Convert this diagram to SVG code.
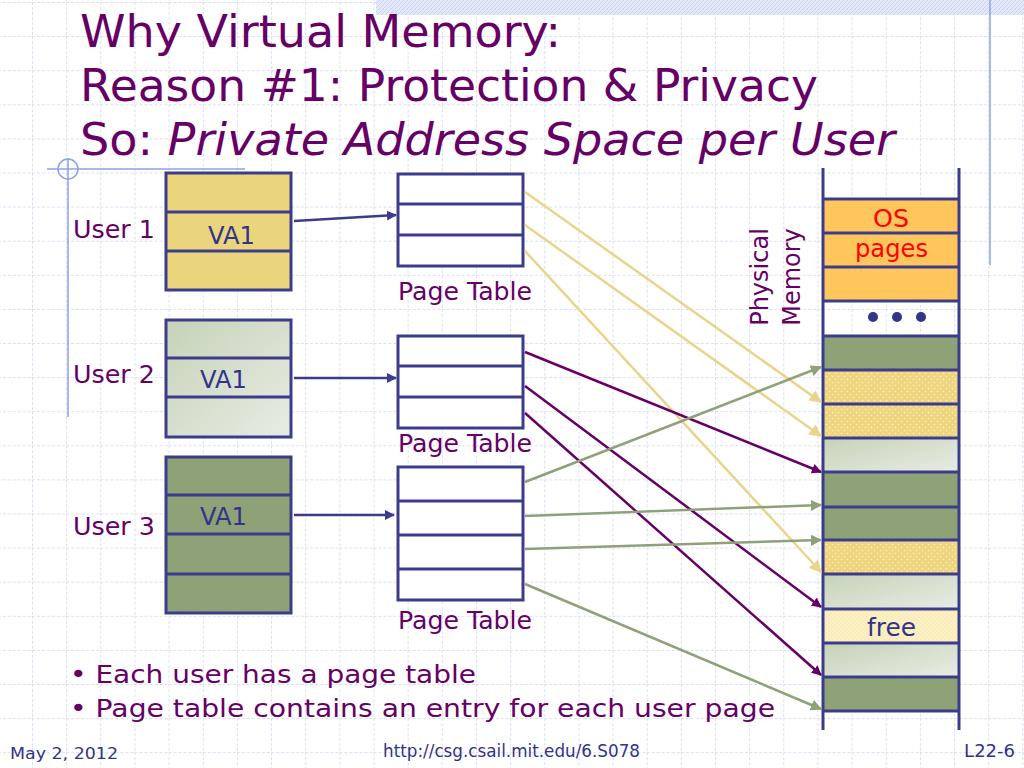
<svg xmlns="http://www.w3.org/2000/svg" width="1024" height="768" viewBox="0 0 1024 768">
<defs>
  <pattern id="grid" x="32" y="2" width="34.15" height="34.1" patternUnits="userSpaceOnUse">
    <path d="M0.5 0V34.1M0 0.5H34.15" stroke="#DADDF2" stroke-width="1" stroke-dasharray="3 2" fill="none"/>
  </pattern>
  <pattern id="hatch" width="4" height="4" patternUnits="userSpaceOnUse">
    <rect width="4" height="4" fill="#E4E9FA"/>
    <path d="M0 4L4 0" stroke="#C9D2F2" stroke-width="1"/>
  </pattern>
  <pattern id="dotsY" width="6" height="6" patternUnits="userSpaceOnUse">
    <rect width="6" height="6" fill="#EFD67E"/>
    <circle cx="1.5" cy="1.5" r="0.8" fill="#FAF0C8"/>
    <circle cx="4.5" cy="4.5" r="0.8" fill="#FAF0C8"/>
  </pattern>
  <pattern id="dotsF" width="4" height="4" patternUnits="userSpaceOnUse">
    <rect width="4" height="4" fill="#FAECB8"/>
    <circle cx="1" cy="1" r="0.7" fill="#FFF8E0"/>
    <circle cx="3" cy="3" r="0.7" fill="#FFF8E0"/>
  </pattern>
  <linearGradient id="lg" x1="0" y1="0" x2="1" y2="1">
    <stop offset="0" stop-color="#C5D3B8"/>
    <stop offset="1" stop-color="#E8ECE4"/>
  </linearGradient>
  <marker id="arrB" viewBox="0 0 10 10" refX="9" refY="5" markerWidth="4" markerHeight="4" orient="auto" markerUnits="strokeWidth">
    <path d="M0 0L10 5L0 10z" fill="#3C3C8C"/>
  </marker>
  <marker id="arrY" viewBox="0 0 10 10" refX="9" refY="5" markerWidth="5" markerHeight="5" orient="auto" markerUnits="strokeWidth">
    <path d="M0 0L10 5L0 10z" fill="#E9D58A"/>
  </marker>
  <marker id="arrP" viewBox="0 0 10 10" refX="9" refY="5" markerWidth="4" markerHeight="4" orient="auto" markerUnits="strokeWidth">
    <path d="M0 0L10 5L0 10z" fill="#660066"/>
  </marker>
  <marker id="arrG" viewBox="0 0 10 10" refX="9" refY="5" markerWidth="4.5" markerHeight="4.5" orient="auto" markerUnits="strokeWidth">
    <path d="M0 0L10 5L0 10z" fill="#8FA177"/>
  </marker>
  <style>
    .box{stroke:#3C3C8C;stroke-width:3;}
    .ln{stroke:#3C3C8C;stroke-width:3;fill:none;}
    .txt{font-family:"DejaVu Sans","Liberation Sans",sans-serif;}
    .pur{fill:#660066;}
    .blu{fill:#333388;}
    .lbl{font-size:24px;}
    .deco{stroke:#8EA2E6;stroke-width:1.5;fill:none;}
    .cy{stroke:#E9D58A;stroke-width:2.5;fill:none;marker-end:url(#arrY);}
    .cp{stroke:#660066;stroke-width:2.5;fill:none;marker-end:url(#arrP);}
    .cg{stroke:#8FA177;stroke-width:2.5;fill:none;marker-end:url(#arrG);}
    .cb{stroke:#3C3C8C;stroke-width:2.5;fill:none;marker-end:url(#arrB);}
  </style>
</defs>

<rect width="1024" height="768" fill="#FFFFFF"/>
<rect width="1024" height="768" fill="url(#grid)"/>
<rect x="376" y="0" width="648" height="15" fill="url(#hatch)"/>
<line class="deco" x1="990" y1="0" x2="990" y2="265"/>
<line class="deco" x1="47" y1="169" x2="245" y2="169"/>
<line class="deco" x1="68" y1="158" x2="68" y2="417"/>
<circle class="deco" cx="68" cy="169" r="10"/>

<g id="title" class="txt pur" font-size="45">
  <text x="80" y="47" textLength="481" lengthAdjust="spacingAndGlyphs">Why Virtual Memory:</text>
  <text x="80" y="101" textLength="738" lengthAdjust="spacingAndGlyphs">Reason #1: Protection &amp; Privacy</text>
  <text x="80" y="155" textLength="815" lengthAdjust="spacingAndGlyphs">So: <tspan font-style="italic">Private Address Space per User</tspan></text>
</g>

<g id="user1">
  <rect class="box" x="166" y="173" width="125" height="117" fill="#EAD47C"/>
  <line class="ln" x1="166" y1="212" x2="291" y2="212"/>
  <line class="ln" x1="166" y1="251" x2="291" y2="251"/>
  <text class="txt blu lbl" x="208" y="244" textLength="47" lengthAdjust="spacingAndGlyphs">VA1</text>
  <text class="txt pur lbl" x="73" y="238" textLength="82" lengthAdjust="spacingAndGlyphs">User 1</text>
</g>
<g id="user2">
  <rect class="box" x="166" y="320" width="125" height="117" fill="url(#lg)"/>
  <line class="ln" x1="166" y1="358" x2="291" y2="358"/>
  <line class="ln" x1="166" y1="397" x2="291" y2="397"/>
  <text class="txt blu lbl" x="200" y="388" textLength="47" lengthAdjust="spacingAndGlyphs">VA1</text>
  <text class="txt pur lbl" x="73" y="383" textLength="82" lengthAdjust="spacingAndGlyphs">User 2</text>
</g>
<g id="user3">
  <rect class="box" x="166" y="457" width="125" height="156" fill="#8FA177"/>
  <line class="ln" x1="166" y1="495" x2="291" y2="495"/>
  <line class="ln" x1="166" y1="534" x2="291" y2="534"/>
  <line class="ln" x1="166" y1="574" x2="291" y2="574"/>
  <text class="txt blu lbl" x="200" y="525" textLength="47" lengthAdjust="spacingAndGlyphs">VA1</text>
  <text class="txt pur lbl" x="73" y="535" textLength="82" lengthAdjust="spacingAndGlyphs">User 3</text>
</g>

<g id="pt1">
  <rect class="box" x="398" y="174" width="125" height="92" fill="#FFFFFF"/>
  <line class="ln" x1="398" y1="204" x2="523" y2="204"/>
  <line class="ln" x1="398" y1="235" x2="523" y2="235"/>
  <text class="txt pur lbl" x="398" y="300" textLength="134" lengthAdjust="spacingAndGlyphs">Page Table</text>
</g>
<g id="pt2">
  <rect class="box" x="398" y="336" width="125" height="92" fill="#FFFFFF"/>
  <line class="ln" x1="398" y1="366" x2="523" y2="366"/>
  <line class="ln" x1="398" y1="397" x2="523" y2="397"/>
  <text class="txt pur lbl" x="398" y="452" textLength="134" lengthAdjust="spacingAndGlyphs">Page Table</text>
</g>
<g id="pt3">
  <rect class="box" x="398" y="467" width="125" height="133" fill="#FFFFFF"/>
  <line class="ln" x1="398" y1="501" x2="523" y2="501"/>
  <line class="ln" x1="398" y1="535" x2="523" y2="535"/>
  <line class="ln" x1="398" y1="569" x2="523" y2="569"/>
  <text class="txt pur lbl" x="398" y="629" textLength="134" lengthAdjust="spacingAndGlyphs">Page Table</text>
</g>

<g id="memory">
  <rect x="823" y="199" width="136" height="102" fill="#FFC65C"/>
  <rect x="823" y="336" width="136" height="34" fill="#8FA177"/>
  <rect x="823" y="370" width="136" height="68" fill="url(#dotsY)"/>
  <rect x="823" y="438" width="136" height="34" fill="url(#lg)"/>
  <rect x="823" y="472" width="136" height="68" fill="#8FA177"/>
  <rect x="823" y="540" width="136" height="34" fill="url(#dotsY)"/>
  <rect x="823" y="574" width="136" height="35" fill="url(#lg)"/>
  <rect x="823" y="609" width="136" height="34" fill="url(#dotsF)"/>
  <rect x="823" y="643" width="136" height="34" fill="url(#lg)"/>
  <rect x="823" y="677" width="136" height="34" fill="#8FA177"/>
  <g class="ln">
    <line x1="823" y1="199" x2="959" y2="199"/>
    <line x1="823" y1="233" x2="959" y2="233"/>
    <line x1="823" y1="267" x2="959" y2="267"/>
    <line x1="823" y1="301" x2="959" y2="301"/>
    <line x1="823" y1="336" x2="959" y2="336"/>
    <line x1="823" y1="370" x2="959" y2="370"/>
    <line x1="823" y1="404" x2="959" y2="404"/>
    <line x1="823" y1="438" x2="959" y2="438"/>
    <line x1="823" y1="472" x2="959" y2="472"/>
    <line x1="823" y1="507" x2="959" y2="507"/>
    <line x1="823" y1="540" x2="959" y2="540"/>
    <line x1="823" y1="574" x2="959" y2="574"/>
    <line x1="823" y1="609" x2="959" y2="609"/>
    <line x1="823" y1="643" x2="959" y2="643"/>
    <line x1="823" y1="677" x2="959" y2="677"/>
    <line x1="823" y1="711" x2="959" y2="711"/>
    <line x1="823" y1="168" x2="823" y2="730"/>
    <line x1="959" y1="168" x2="959" y2="730"/>
  </g>
  <text class="txt lbl" x="873" y="227" fill="#FF0000" textLength="36" lengthAdjust="spacingAndGlyphs">OS</text>
  <text class="txt lbl" x="855" y="257" fill="#FF0000" textLength="73" lengthAdjust="spacingAndGlyphs">pages</text>
  <circle cx="873" cy="317" r="5" fill="#333388"/>
  <circle cx="897" cy="317" r="5" fill="#333388"/>
  <circle cx="921" cy="317" r="5" fill="#333388"/>
  <text class="txt blu lbl" x="867" y="636" textLength="49" lengthAdjust="spacingAndGlyphs">free</text>
  <text class="txt pur lbl" transform="translate(768,277) rotate(-90)" text-anchor="middle">Physical</text>
  <text class="txt pur lbl" transform="translate(800,277) rotate(-90)" text-anchor="middle">Memory</text>
</g>

<g id="connectors">
  <line class="cb" x1="294" y1="221" x2="396" y2="215"/>
  <line class="cb" x1="294" y1="378" x2="396" y2="378"/>
  <line class="cb" x1="294" y1="515" x2="394" y2="515"/>
  <line class="cy" x1="525" y1="192" x2="821" y2="402"/>
  <line class="cy" x1="525" y1="225" x2="821" y2="436"/>
  <line class="cy" x1="525" y1="251" x2="821" y2="572"/>
  <line class="cp" x1="525" y1="352" x2="821" y2="472"/>
  <line class="cp" x1="525" y1="386" x2="821" y2="607"/>
  <line class="cp" x1="525" y1="413" x2="821" y2="675"/>
  <line class="cg" x1="525" y1="482" x2="821" y2="367"/>
  <line class="cg" x1="525" y1="516" x2="821" y2="505"/>
  <line class="cg" x1="525" y1="549" x2="821" y2="540"/>
  <line class="cg" x1="525" y1="584" x2="821" y2="709"/>
</g>

<g id="bullets" class="txt pur" font-size="25">
  <text x="70" y="683" textLength="406" lengthAdjust="spacingAndGlyphs">• Each user has a page table</text>
  <text x="70" y="717" textLength="705" lengthAdjust="spacingAndGlyphs">• Page table contains an entry for each user page</text>
</g>

<g id="footer" class="txt blu">
  <text x="10" y="759" font-size="15" textLength="108" lengthAdjust="spacingAndGlyphs">May 2, 2012</text>
  <text x="383" y="757" font-size="17" textLength="257" lengthAdjust="spacingAndGlyphs">http://csg.csail.mit.edu/6.S078</text>
  <text x="1015" y="757" font-size="18" text-anchor="end">L22-6</text>
</g>
</svg>
